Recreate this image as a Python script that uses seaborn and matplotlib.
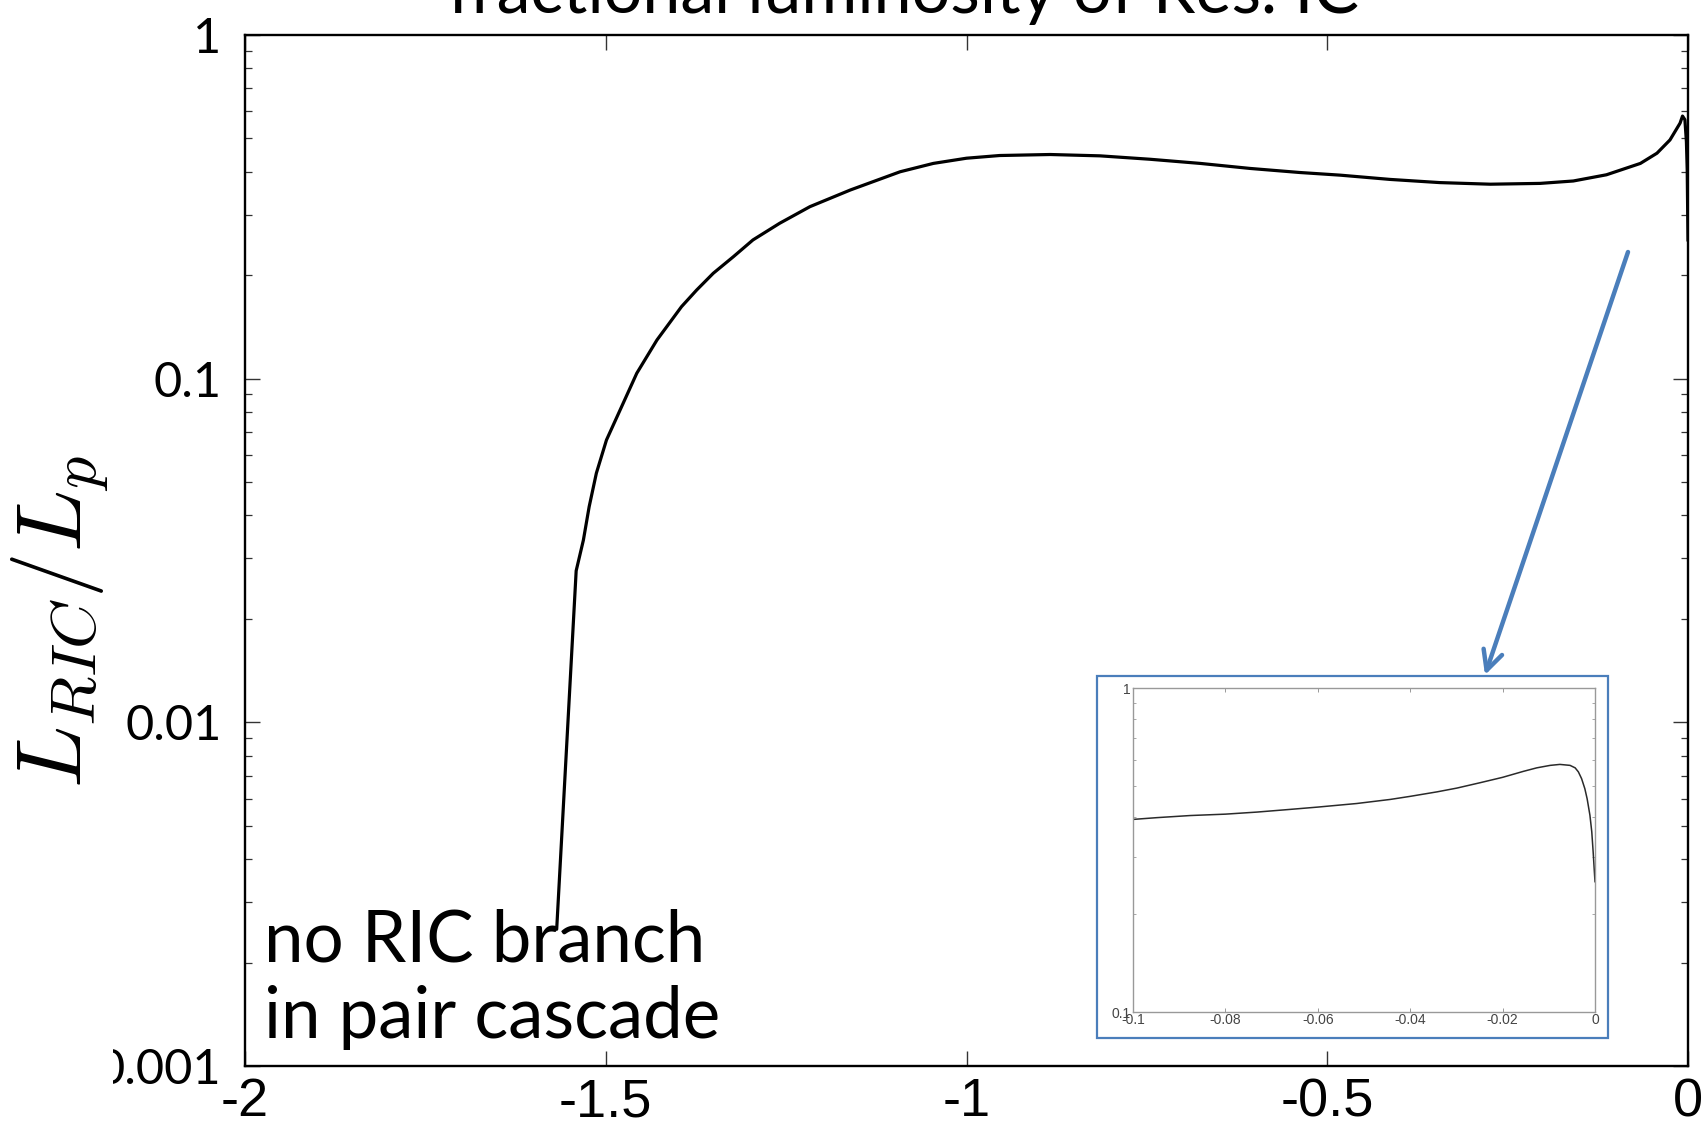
import numpy as np
import pandas as pd
import matplotlib
matplotlib.use("Agg")
import matplotlib.pyplot as plt
import seaborn as sns
from matplotlib import font_manager as fm
from matplotlib.ticker import FixedLocator, FixedFormatter, LogLocator, NullFormatter
from matplotlib.patches import Rectangle

# ---------------- data ----------------
main_x = [-1.568, -1.541, -1.531, -1.523, -1.513, -1.499, -1.478, -1.457, -1.429,
          -1.395, -1.374, -1.351, -1.323, -1.296, -1.259, -1.217, -1.161, -1.092,
          -1.046, -1.000, -0.954, -0.884, -0.815, -0.746, -0.676, -0.607, -0.538,
          -0.482, -0.413, -0.344, -0.274, -0.205, -0.159, -0.113, -0.066, -0.043,
          -0.025, -0.011, -0.0076, -0.0043, -0.0022, -0.0011, 0.0]
main_y = [0.0025, 0.0276, 0.0339, 0.0424, 0.0531, 0.0663, 0.0829, 0.1037, 0.1296,
          0.1620, 0.1811, 0.2026, 0.2265, 0.2533, 0.2832, 0.3166, 0.3540, 0.400,
          0.423, 0.438, 0.446, 0.449, 0.445, 0.435, 0.423, 0.409, 0.398,
          0.391, 0.380, 0.372, 0.368, 0.370, 0.376, 0.392, 0.423, 0.453,
          0.495, 0.554, 0.581, 0.567, 0.489, 0.405, 0.252]

inset_x = [-0.1, -0.0948, -0.0876, -0.0800, -0.0732, -0.0660, -0.0600, -0.0516,
           -0.0443, -0.0400, -0.0342, -0.0299, -0.0249, -0.0200, -0.0155, -0.0126,
           -0.0097, -0.0076, -0.0054, -0.0043, -0.0036, -0.0029, -0.0022, -0.0017,
           -0.0011, -0.0007, -0.0004, 0.0]
inset_y = [0.393, 0.398, 0.404, 0.408, 0.414, 0.422, 0.429, 0.440,
           0.453, 0.463, 0.478, 0.491, 0.510, 0.530, 0.553, 0.567,
           0.577, 0.581, 0.577, 0.567, 0.551, 0.525, 0.489, 0.455,
           0.405, 0.360, 0.312, 0.252]

x_ticks = [-2, -1.5, -1, -0.5, 0]
x_ticklabels = ["-2", "-1.5", "-1", "-0.5", "0"]
y_ticks = [0.001, 0.01, 0.1, 1]
y_ticklabels = ["0.001", "0.01", "0.1", "1"]

inset_xticks = [-0.1, -0.08, -0.06, -0.04, -0.02, 0]
inset_xticklabels = ["-0.1", "-0.08", "-0.06", "-0.04", "-0.02", "0"]
inset_yticks = [0.1, 1]
inset_yticklabels = ["0.1", "1"]

title_text = "fractional luminosity of Res. IC"
note_lines = ["no RIC branch", "in pair cascade"]
ylabel_text = r"$L_{RIC}/L_p$"

# ---------------- style ----------------
sns.set_style("ticks")
names = {f.name for f in fm.fontManager.ttflist}
narrow = "Liberation Sans Narrow" if "Liberation Sans Narrow" in names else "Liberation Sans"
plt.rcParams["font.family"] = ["Lato", "DejaVu Sans"]
plt.rcParams["axes.unicode_minus"] = False
plt.rcParams["mathtext.fontset"] = "cm"
plt.rcParams["text.color"] = "black"
plt.rcParams["xtick.color"] = "black"
plt.rcParams["ytick.color"] = "black"

W, H = 1705, 1128
fig = plt.figure(figsize=(W / 100, H / 100), dpi=100)
fig.patch.set_facecolor("white")

# main axes
ax = fig.add_axes([245 / W, 1 - 1066 / H, (1688 - 245) / W, (1066 - 35) / H])
df_main = pd.DataFrame({"x": main_x, "y": main_y})
sns.lineplot(data=df_main, x="x", y="y", ax=ax, color="black", lw=2.3,
             estimator=None, sort=False)
ax.set_yscale("log")
ax.set_xlim(-2, 0)
ax.set_ylim(0.001, 1)
ax.set_xlabel("")
ax.set_ylabel("")
ax.xaxis.set_major_locator(FixedLocator(x_ticks))
ax.xaxis.set_major_formatter(FixedFormatter(x_ticklabels))
ax.yaxis.set_major_locator(FixedLocator(y_ticks))
ax.yaxis.set_major_formatter(FixedFormatter(y_ticklabels))
ax.yaxis.set_minor_locator(LogLocator(base=10, subs=np.arange(2, 10)))
ax.yaxis.set_minor_formatter(NullFormatter())
ax.tick_params(which="both", direction="in", top=True, right=True, color="#333333")
ax.tick_params(which="major", length=11, width=1.0)
ax.tick_params(which="minor", length=5, width=0.9)
ax.tick_params(axis="x", pad=8)
ax.tick_params(axis="y", pad=17)
for lab in ax.get_xticklabels():
    lab.set_fontfamily(narrow)
    lab.set_fontsize(39)
for lab in ax.get_yticklabels():
    lab.set_fontfamily(["Lato", "DejaVu Sans"])
    lab.set_fontsize(35)
for sp in ax.spines.values():
    sp.set_linewidth(1.7)
    sp.set_color("black")

# y label
fig.text(60 / W, 1 - 622 / H, ylabel_text, rotation=90, ha="center", va="center",
         fontsize=66)

# title (cut off by the top edge)
fig.text(903 / W, 1 - 13 / H, title_text, ha="center", va="baseline", fontsize=49)

# annotation text
fig.text(264 / W, 1 - 962 / H, note_lines[0], ha="left", va="baseline", fontsize=51)
fig.text(264 / W, 1 - 1038 / H, note_lines[1], ha="left", va="baseline", fontsize=51)

# the reference's lowest y label is cropped at its left end
mask = Rectangle((0, 1 - 1100 / H), 113 / W, 70 / H, transform=fig.transFigure,
                 facecolor="white", edgecolor="none", zorder=10)
fig.patches.append(mask)

# inset frame (blue box)
box = Rectangle((1097 / W, 1 - 1038 / H), (1608 - 1097) / W, (1038 - 676) / H,
                transform=fig.transFigure, facecolor="white", edgecolor="#4A7EBB",
                lw=1.6, zorder=1)
fig.patches.append(box)

# inset axes
axi = fig.add_axes([1133 / W, 1 - 1012 / H, (1595 - 1133) / W, (1012 - 688) / H],
                   zorder=2)
df_in = pd.DataFrame({"x": inset_x, "y": inset_y})
sns.lineplot(data=df_in, x="x", y="y", ax=axi, color="#2a2a2a", lw=1.1,
             estimator=None, sort=False)
axi.set_yscale("log")
axi.set_xlim(-0.1, 0)
axi.set_ylim(0.1, 1)
axi.set_xlabel("")
axi.set_ylabel("")
axi.xaxis.set_major_locator(FixedLocator(inset_xticks))
axi.xaxis.set_major_formatter(FixedFormatter(inset_xticklabels))
axi.yaxis.set_major_locator(FixedLocator(inset_yticks))
axi.yaxis.set_major_formatter(FixedFormatter(inset_yticklabels))
axi.yaxis.set_minor_locator(LogLocator(base=10, subs=np.arange(2, 10)))
axi.yaxis.set_minor_formatter(NullFormatter())
axi.tick_params(which="both", direction="in", top=True, right=True, color="#999999",
                labelcolor="#444444")
axi.tick_params(which="major", length=3, width=0.7, labelsize=10)
axi.tick_params(which="minor", length=2, width=0.6)
axi.tick_params(axis="x", pad=1)
axi.tick_params(axis="y", pad=2)
for lab in axi.get_xticklabels() + axi.get_yticklabels():
    lab.set_fontfamily(narrow)
for sp in axi.spines.values():
    sp.set_linewidth(1.0)
    sp.set_color("#999999")

# arrow
ax.annotate("", xy=(1485, H - 675), xytext=(1628, H - 252),
            xycoords="figure pixels", textcoords="figure pixels",
            arrowprops=dict(arrowstyle="->,head_length=0.7,head_width=0.35",
                            color="#4A7EBB", lw=3.2, shrinkA=0, shrinkB=0,
                            mutation_scale=20, capstyle="round",
                            joinstyle="round"),
            annotation_clip=False, zorder=3)

fig.savefig("out.png", dpi=100, facecolor="white")
